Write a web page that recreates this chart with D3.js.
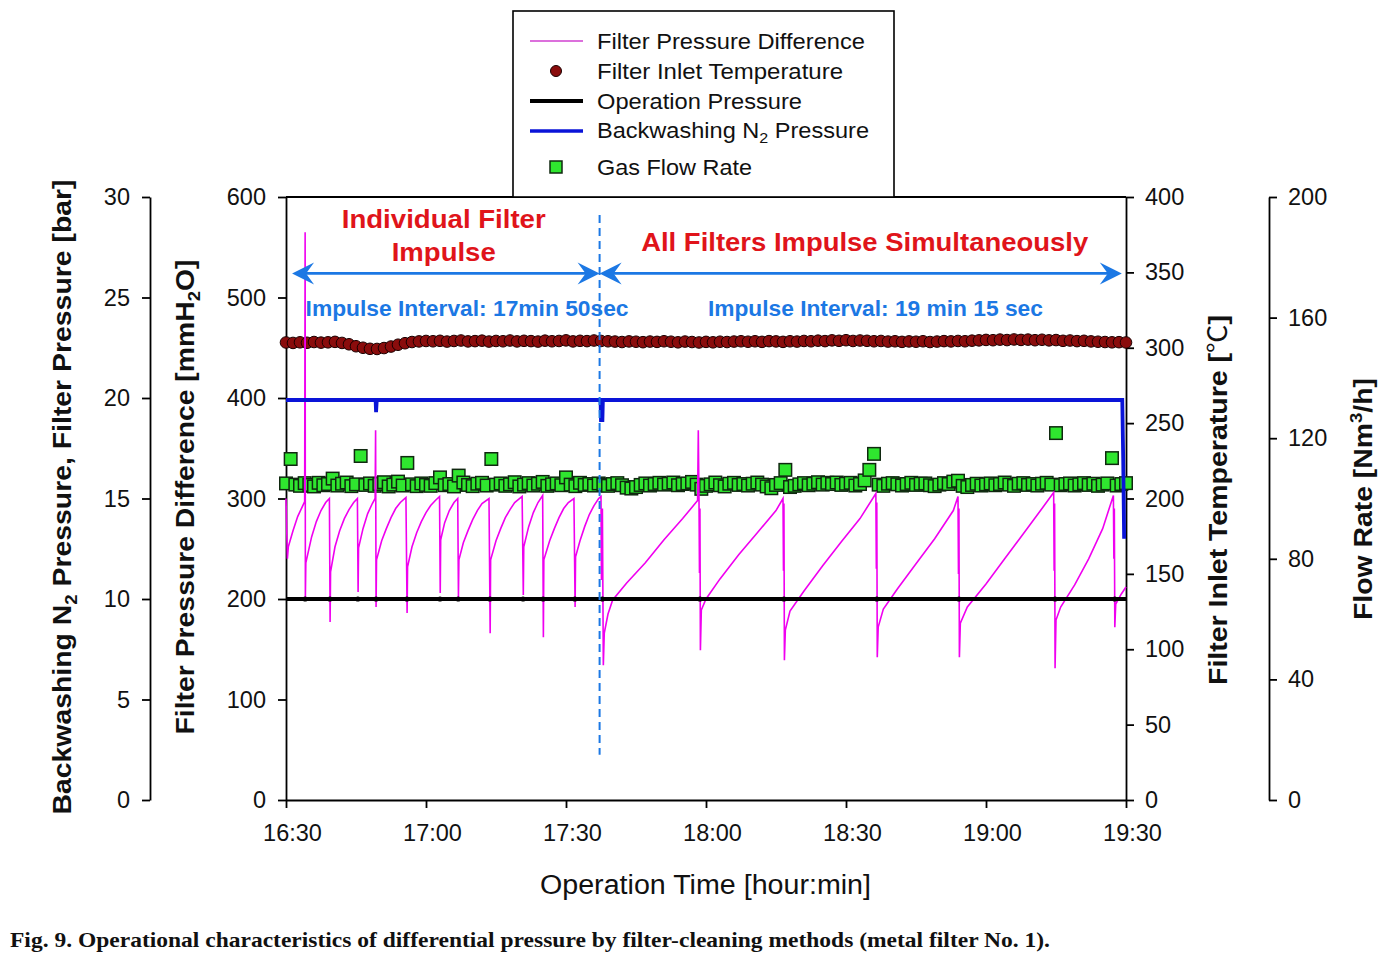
<!DOCTYPE html>
<html><head><meta charset="utf-8">
<script src="https://cdn.jsdelivr.net/npm/d3@7"></script>
<style>
body{margin:0;background:#fff;}
svg text{font-family:Arial,"Liberation Sans",sans-serif;fill:#111;}
</style></head><body>
<svg id="c" width="1399" height="958"></svg>
<script>
// ---------- DATA ----------
// time in minutes after 16:30
const xTicks = [0,30,60,90,120,150,180];
const xTickLabels = ["16:30","17:00","17:30","18:00","18:30","19:00","19:30"];
const barTicks = [0,5,10,15,20,25,30];
const mmTicks = [0,100,200,300,400,500,600];
const tempTicks = [0,50,100,150,200,250,300,350,400];
const flowTicks = [0,40,80,120,160,200];

// Filter pressure difference [mmH2O]  [time, value]
const dpPoints = [
 [0,300],[0.3,240],[0.5,252],[1.5,268],[2.5,282],[3.5,292],[4.0,297],
 [4.1,565],[4.15,202],[4.25,236],[5.5,262],[6.5,277],[7.5,288],[8.5,296],[9.3,300],
 [9.45,177],[9.55,227],[10.5,252],[11.5,268],[12.5,280],[13.5,289],[14.5,296],[15.3,300],
 [15.45,207],[15.55,251],[16.5,270],[17.5,285],[18.5,295],[19.1,300],
 [19.2,368],[19.3,192],[19.4,239],[20.5,258],[21.5,270],[22.5,281],[23.5,290],[24.5,296],[25.7,301],
 [25.95,186],[26.05,232],[27,252],[28,266],[29,277],[30,286],[31,293],[32,298],[32.9,302],
 [33.05,206],[33.15,259],[34,276],[35,288],[36,296],[36.8,300],
 [36.95,202],[37.05,239],[38,256],[39,268],[40,279],[41,288],[42,295],[43.5,300],
 [43.75,166],[43.85,239],[45,258],[46,270],[47,281],[48,289],[49,296],[50.6,302],
 [50.85,204],[50.95,252],[52,272],[53,286],[54,296],[55.0,303],
 [55.15,162],[55.25,239],[56.5,258],[57.5,270],[58.5,281],[59.5,290],[60.5,296],[61.7,300],
 [61.95,192],[62.05,242],[63,258],[64,272],[65,284],[66,293],[67.0,300],
 [67.5,302],[67.6,219],[67.7,250],[67.8,290],[68.0,134],[68.2,166],[69,185],[70,199],[73,216],[77,236],[81,259],[85,280],[88.2,298],
 [88.35,368],[88.5,300],[88.6,226],[88.7,290],[88.8,149],[89.0,189],[90,200],[93,220],[97,244],[101,266],[105,288],[106.5,300],
 [106.6,228],[106.7,295],[106.8,139],[107.0,169],[108,188],[111,208],[115,233],[119,257],[123,280],[126.4,305],
 [126.5,230],[126.6,296],[126.7,142],[126.9,172],[128,190],[131,210],[135,235],[139,260],[143,288],[144.0,302],
 [144.1,225],[144.2,290],[144.3,142],[144.5,176],[146,192],[150,215],[154,240],[158,265],[162,290],[164.5,306],
 [164.6,228],[164.7,295],[164.8,131],[165.0,179],[166,192],[169,214],[172,240],[175,270],[177.3,303],
 [177.4,240],[177.5,290],[177.6,172],[177.8,195],[179,205],[180,212]
];

// Filter inlet temperature [°C], sampled every 1.5 min from 16:30
const tempStep = 1.5;
const tempValues = [
 303.5,303.2,303.6,303.3,303.8,303.4,303.6,303.9,303.2,
 302.3,301.0,300.0,299.3,299.2,299.8,300.8,302.0,303.0,303.8,304.2,304.5,
 304.3,304.6,304.1,304.5,304.8,304.2,304.4,304.7,304.1,304.5,304.3,304.8,304.2,304.6,304.4,304.1,304.7,304.3,304.5,304.9,304.2,304.6,304.4,304.8,304.5,
 304.3,304.1,303.8,304.2,304.0,303.7,304.1,303.9,304.3,304.0,
 303.6,304.1,303.8,303.5,303.9,303.6,304.0,303.8,304.1,304.3,
 304.0,304.3,303.9,304.4,304.2,303.9,304.3,304.1,304.5,304.3,
 304.7,304.4,304.9,304.6,305.0,304.5,304.8,304.6,304.3,304.5,
 304.1,304.3,303.9,304.2,304.0,304.3,303.8,304.1,304.4,304.2,
 304.5,304.3,304.7,304.9,305.2,305.0,305.4,305.1,305.5,305.2,
 305.4,305.0,305.3,304.9,305.1,304.6,304.8,304.4,304.6,304.2,
 304.0,303.8,303.6,303.7,303.5
];

// Operation pressure [bar]
const opPoints = [[0,10],[180,10]];
const opMarkTimes = [4.1,9.4,15.4,19.3,25.9,33.0,36.9,43.7,50.8,55.1,61.9,67.8,88.7,106.7,126.6,144.2,164.8,177.6];

// Backwashing N2 pressure [bar]
const n2Points = [[0,19.9],[19.2,19.9],[19.3,19.3],[19.45,19.9],[67.4,19.9],[67.5,18.9],[67.8,18.9],[67.9,19.9],[179.2,19.9],[179.4,17.0],[179.6,13.0]];

// Gas flow rate [Nm3/h], sampled every 1 min from 16:30
const flowStep = 1;
const flowValues = [
 105.0,113.1,104.6,104.2,105.1,104.5,104.0,105.2,104.4,104.8,
 106.6,104.3,104.9,105.3,104.1,104.7,114.1,104.5,105.0,104.2,
 104.8,105.4,104.0,104.6,105.6,104.3,111.8,104.7,104.1,105.0,
 104.5,104.2,105.1,107.0,104.4,104.8,104.0,107.6,105.3,104.5,
 104.1,104.9,105.2,104.3,113.1,104.6,105.0,104.2,104.7,105.4,
 104.0,104.6,105.1,104.3,104.9,105.5,104.2,104.7,105.0,104.4,
 107.0,104.6,104.1,105.2,104.5,104.8,104.3,105.0,104.6,104.2,
 104.8,105.1,104.4,103.6,103.3,103.8,104.5,105.0,104.3,104.8,
 105.2,104.6,104.9,105.3,104.4,104.8,105.0,105.5,104.6,103.2,
 104.2,104.7,105.3,104.4,104.0,104.9,105.2,104.5,104.8,104.3,
 104.9,105.3,104.6,104.0,103.4,104.5,105.1,109.5,103.8,104.2,
 104.7,105.1,104.4,104.9,105.4,104.6,105.2,104.8,105.3,104.5,
 104.9,105.2,104.3,104.8,106.0,109.5,114.8,104.6,104.2,104.9,
 105.1,104.7,104.3,104.8,105.2,104.5,104.9,105.0,104.4,104.1,
 104.6,105.1,104.8,105.6,105.9,104.2,103.8,104.5,104.9,104.3,
 104.7,105.0,104.4,104.8,105.3,104.6,104.2,104.9,105.1,104.5,
 104.8,104.3,104.9,105.2,104.6,121.7,104.4,104.8,105.0,104.3,
 104.7,105.1,104.5,104.9,104.2,104.6,105.0,113.4,104.3,104.8,
 105.1
];

// Annotations
const splitTime = 67.2;
const leftTitle = ["Individual Filter","Impulse"];
const rightTitle = "All Filters Impulse Simultaneously";
const leftInterval = "Impulse Interval: 17min 50sec";
const rightInterval = "Impulse Interval: 19 min 15 sec";
const caption = "Fig. 9. Operational characteristics of differential pressure by filter-cleaning methods (metal filter No. 1).";

// ---------- CHART ----------
const svg = d3.select("#c");
const L = 286, R = 1126, T = 197, B = 800;
const x = d3.scaleLinear([0,180],[L,R]);
const yMM = d3.scaleLinear([0,600],[B,T]);
const yBar = d3.scaleLinear([0,30],[B,T]);
const yTemp = d3.scaleLinear([0,400],[B,T]);
const yFlow = d3.scaleLinear([0,200],[B,T]);

const fit = (sel,w)=>sel.attr("textLength",w).attr("lengthAdjust","spacingAndGlyphs");

const AX = 1.8;
function styleAxis(g){
  g.attr("font-size",23.5).attr("font-family","Arial, 'Liberation Sans', sans-serif");
  g.selectAll("path,line").attr("stroke","#000").attr("stroke-width",AX);
  g.selectAll("text").attr("fill","#111");
}
function vAxis(scale, xp, left, majors, minors, pad){
  const A = left ? d3.axisLeft : d3.axisRight;
  const g = svg.append("g").attr("transform",`translate(${xp},0)`);
  g.call(A(scale).tickValues(minors).tickSize(6).tickSizeOuter(0).tickFormat(""));
  g.call(A(scale).tickValues(majors).tickSize(8).tickSizeOuter(0).tickPadding(pad).tickFormat(d3.format("d")));
  styleAxis(g);
  return g;
}
const rng = (a,b,s)=>d3.range(a,b+1e-9,s);
vAxis(yBar,150,true,barTicks,rng(0,30,1),12);
vAxis(yMM,L,true,mmTicks,rng(0,600,20),12);
vAxis(yTemp,R,false,tempTicks,rng(0,400,10),11);
vAxis(yFlow,1269,false,flowTicks,rng(0,200,8),11);

// x axis
const gx = svg.append("g").attr("transform",`translate(0,${B})`);
gx.call(d3.axisBottom(x).tickValues(rng(0,180,5)).tickSize(5).tickSizeOuter(0).tickFormat(""));
gx.call(d3.axisBottom(x).tickValues(xTicks).tickSize(8).tickSizeOuter(0).tickPadding(16)
  .tickFormat((d,i)=>xTickLabels[i]));
styleAxis(gx);
gx.selectAll("text").attr("dx",6);
// top frame line
svg.append("line").attr("x1",L).attr("x2",R).attr("y1",T).attr("y2",T)
  .attr("stroke","#000").attr("stroke-width",AX);

// ---------- SERIES ----------
svg.append("clipPath").attr("id","pc").append("rect")
  .attr("x",L-8).attr("y",T).attr("width",R-L+16).attr("height",B-T);
const plot = svg.append("g").attr("clip-path","url(#pc)");

// gas flow squares
const sq = 12.5;
plot.append("g").selectAll("rect").data(flowValues).join("rect")
  .attr("x",(d,i)=>x(i*flowStep)-sq/2).attr("y",d=>yFlow(d)-sq/2)
  .attr("width",sq).attr("height",sq)
  .attr("fill","#2fe62f").attr("stroke","#102810").attr("stroke-width",1.5);

// temperature circles
plot.append("g").selectAll("circle").data(tempValues).join("circle")
  .attr("cx",(d,i)=>x(i*tempStep)).attr("cy",d=>yTemp(d)).attr("r",5.8)
  .attr("fill","#8a0c0c").attr("stroke","#1a0000").attr("stroke-width",1);

// pressure difference
plot.append("path").datum(dpPoints)
  .attr("d",d3.line().x(d=>x(d[0])).y(d=>yMM(d[1])))
  .attr("fill","none").attr("stroke","#f000f0").attr("stroke-width",1.6);

// N2 pressure
plot.append("path").datum(n2Points)
  .attr("d",d3.line().x(d=>x(d[0])).y(d=>yBar(d[1])))
  .attr("fill","none").attr("stroke","#0a14d8").attr("stroke-width",3.8);

// operation pressure
plot.append("path").datum(opPoints)
  .attr("d",d3.line().x(d=>x(d[0])).y(d=>yBar(d[1])))
  .attr("fill","none").attr("stroke","#000").attr("stroke-width",4);
plot.append("g").selectAll("circle").data(opMarkTimes).join("circle")
  .attr("cx",d=>x(d)).attr("cy",yBar(10)).attr("r",2.6).attr("fill","#000");

// ---------- ANNOTATIONS ----------
const blue = "#1c78e4", red = "#e0141a";
svg.append("line").attr("x1",x(splitTime)).attr("x2",x(splitTime))
  .attr("y1",yMM(582)).attr("y2",yMM(45))
  .attr("stroke",blue).attr("stroke-width",2).attr("stroke-dasharray","8,5");

function arrow(t0,t1,v){
  const x0=x(t0), x1=x(t1), y=yMM(v);
  svg.append("line").attr("x1",x0+6).attr("x2",x1-6).attr("y1",y).attr("y2",y)
    .attr("stroke",blue).attr("stroke-width",2.6);
  const head=(xt,dir)=>`M${xt},${y} L${xt+dir*22},${y-11} L${xt+dir*14},${y} L${xt+dir*22},${y+11} Z`;
  svg.append("path").attr("d",head(x0,1)).attr("fill",blue);
  svg.append("path").attr("d",head(x1,-1)).attr("fill",blue);
}
arrow(1.3,67.2,524);
arrow(67.2,179.1,524);

function ann(t,v,txt,size,color,w){
  const s = svg.append("text").attr("x",x(t)).attr("y",yMM(v)).attr("text-anchor","middle")
    .attr("font-size",size).attr("font-weight","bold").style("fill",color).text(txt);
  fit(s,w);
}
ann(33.8,569,leftTitle[0],26,red,204);
ann(33.8,536,leftTitle[1],26,red,104);
ann(124,546,rightTitle,26,red,447);
ann(38.8,482,leftInterval,22,blue,323);
ann(126.3,482,rightInterval,22,blue,335);

// ---------- AXIS TITLES ----------
function vTitle(cx, cy, parts, w){
  const t = svg.append("text").attr("transform",`translate(${cx},${cy}) rotate(-90)`)
    .attr("text-anchor","middle").attr("font-size",26).attr("font-weight","bold");
  parts.forEach(p=>{
    const s = t.append("tspan").text(p.t);
    if(p.sub){ s.attr("font-size",17).attr("dy",6); }
    if(p.sup){ s.attr("font-size",17).attr("dy",-10); }
    if(p.dy) s.attr("dy",p.dy);
    if(p.ff) s.style("font-family",p.ff).attr("font-weight","normal");
  });
  fit(t,w);
  return t;
}
vTitle(71,497,[{t:"Backwashing N"},{t:"2",sub:true},{t:" Pressure, Filter Pressure [bar]",dy:-6}],635);
vTitle(194,497,[{t:"Filter Pressure Difference [mmH"},{t:"2",sub:true},{t:"O]",dy:-6}],475);
vTitle(1227,500,[{t:"Filter Inlet Temperature ["},{t:"℃",ff:"'Noto Sans CJK KR'"},{t:"]"}],370);
vTitle(1372,499,[{t:"Flow Rate [Nm"},{t:"3",sup:true},{t:"/h]",dy:10}],242);

fit(svg.append("text").attr("x",705.5).attr("y",894).attr("text-anchor","middle")
  .attr("font-size",27).text("Operation Time [hour:min]"),331);

// ---------- LEGEND ----------
const lg = svg.append("g");
lg.append("rect").attr("x",513).attr("y",11).attr("width",381).attr("height",186)
  .attr("fill","#fff").attr("stroke","#000").attr("stroke-width",1.6);
const rows = [41,71,101,131,167];
lg.append("line").attr("x1",530).attr("x2",583).attr("y1",rows[0]).attr("y2",rows[0]).attr("stroke","#d040d0").attr("stroke-width",1.6);
lg.append("circle").attr("cx",556).attr("cy",rows[1]).attr("r",5.5).attr("fill","#8a0c0c").attr("stroke","#1a0000");
lg.append("line").attr("x1",530).attr("x2",583).attr("y1",rows[2]).attr("y2",rows[2]).attr("stroke","#000").attr("stroke-width",4);
lg.append("line").attr("x1",530).attr("x2",583).attr("y1",rows[3]).attr("y2",rows[3]).attr("stroke","#0a14d8").attr("stroke-width",3.5);
lg.append("rect").attr("x",550).attr("y",rows[4]-6).attr("width",12).attr("height",12).attr("fill","#2fe62f").attr("stroke","#102810").attr("stroke-width",1.5);
const lt = ["Filter Pressure Difference","Filter Inlet Temperature","Operation Pressure",null,"Gas Flow Rate"];
const lw = [268,246,205,272,155];
lt.forEach((s,i)=>{
  let t;
  if(s===null){
    t = lg.append("text").attr("x",597).attr("y",rows[i]+7).attr("font-size",22);
    t.append("tspan").text("Backwashing N");
    t.append("tspan").attr("font-size",15).attr("dy",5).text("2");
    t.append("tspan").attr("dy",-5).text(" Pressure");
  } else {
    t = lg.append("text").attr("x",597).attr("y",rows[i]+8).attr("font-size",22).text(s);
  }
  fit(t,lw[i]);
});

// ---------- CAPTION ----------
fit(svg.append("text").attr("x",10).attr("y",947).attr("font-size",21).attr("font-weight","bold")
  .style("font-family","'Liberation Serif','Times New Roman',serif").text(caption),1040);
</script></body></html>
